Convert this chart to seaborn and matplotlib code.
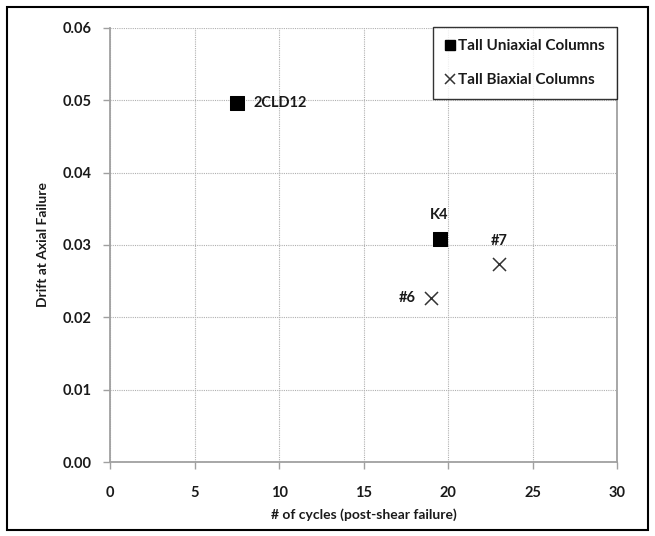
import matplotlib
matplotlib.use("Agg")
import matplotlib.pyplot as plt
import seaborn as sns
import pandas as pd
from matplotlib.patches import Rectangle
from matplotlib.lines import Line2D

series = ["Tall Uniaxial Columns", "Tall Uniaxial Columns", "Tall Biaxial Columns", "Tall Biaxial Columns"]
labels = ["2CLD12", "K4", "#7", "#6"]
cycles = [7.5, 19.5, 23.0, 19.0]
drift = [0.0496, 0.0308, 0.0274, 0.0226]
x_ticks = [0, 5, 10, 15, 20, 25, 30]
y_ticks = [0.00, 0.01, 0.02, 0.03, 0.04, 0.05, 0.06]

df = pd.DataFrame({"series": series, "label": labels, "cycles": cycles, "drift": drift})

sns.set_theme(style="white")
plt.rcParams['font.family'] = ['Lato', 'DejaVu Sans']

TXT = "#1a1a1a"
AX = "#a0a0a0"

fig = plt.figure(figsize=(6.55, 5.36), dpi=100)
ax = fig.add_axes([0.168, 0.138, 0.774, 0.810])

uni = df[df.series == "Tall Uniaxial Columns"]
bi = df[df.series == "Tall Biaxial Columns"]
sns.scatterplot(data=uni, x="cycles", y="drift", marker="s", s=88, color="black",
                edgecolor="black", ax=ax, zorder=3, legend=False)
sns.scatterplot(data=bi, x="cycles", y="drift", marker="x", s=88, color="#333333",
                linewidth=1.1, ax=ax, zorder=3, legend=False)

offsets = {"2CLD12": (12, 0, "left", "center"),
           "K4": (0, 12, "center", "bottom"),
           "#7": (0, 11, "center", "bottom"),
           "#6": (-11, 0, "right", "center")}
for _, r in df.iterrows():
    dx, dy, ha, va = offsets[r.label]
    ax.annotate(r.label, (r.cycles, r.drift), xytext=(dx, dy), textcoords="offset points",
                ha=ha, va=va, fontsize=10.5, fontweight="bold", color=TXT)

ax.set_xlim(0, 30)
ax.set_ylim(0, 0.06)
ax.set_xticks(x_ticks)
ax.set_yticks(y_ticks)
ax.set_xticklabels([str(t) for t in x_ticks])
ax.set_yticklabels([f"{t:.2f}" for t in y_ticks])
ax.grid(True, linestyle=(0, (1, 1)), color="#b0b0b0", linewidth=0.8)
ax.spines["top"].set_visible(False)
for s in ["left", "bottom", "right"]:
    ax.spines[s].set_color(AX)
    ax.spines[s].set_linewidth(1.3)
ax.tick_params(axis="both", which="both", length=5, width=1.0, color=AX,
               labelsize=10.5, labelcolor=TXT, direction="out", left=True, bottom=True)
ax.tick_params(axis="y", pad=8)
ax.tick_params(axis="x", pad=12)
for lab in ax.get_xticklabels() + ax.get_yticklabels():
    lab.set_fontweight("bold")
ax.set_xlabel("# of cycles (post-shear failure)", fontsize=10, fontweight="bold", color=TXT, labelpad=6)
ax.set_ylabel("Drift at Axial Failure", fontsize=10, fontweight="bold", color=TXT, labelpad=10)

handles = [Line2D([], [], marker="s", color="black", linestyle="none", markersize=7),
           Line2D([], [], marker="x", color="#333333", linestyle="none", markersize=7.5, markeredgewidth=1.1)]
leg = fig.legend(handles, ["Tall Uniaxial Columns", "Tall Biaxial Columns"],
                 loc="upper right", bbox_to_anchor=(0.942, 0.950), frameon=True, fancybox=False,
                 edgecolor="black", handlelength=0.7, handletextpad=0.15, labelspacing=1.3,
                 borderpad=0.8, borderaxespad=0.0, prop={"size": 11, "weight": "bold"})
leg.get_frame().set_linewidth(1.0)
for t in leg.get_texts():
    t.set_color(TXT)

fig.patches.append(Rectangle((0.011, 0.011), 0.978, 0.976, transform=fig.transFigure,
                             fill=False, edgecolor="black", linewidth=1.5))

fig.savefig("out.png", dpi=100)
